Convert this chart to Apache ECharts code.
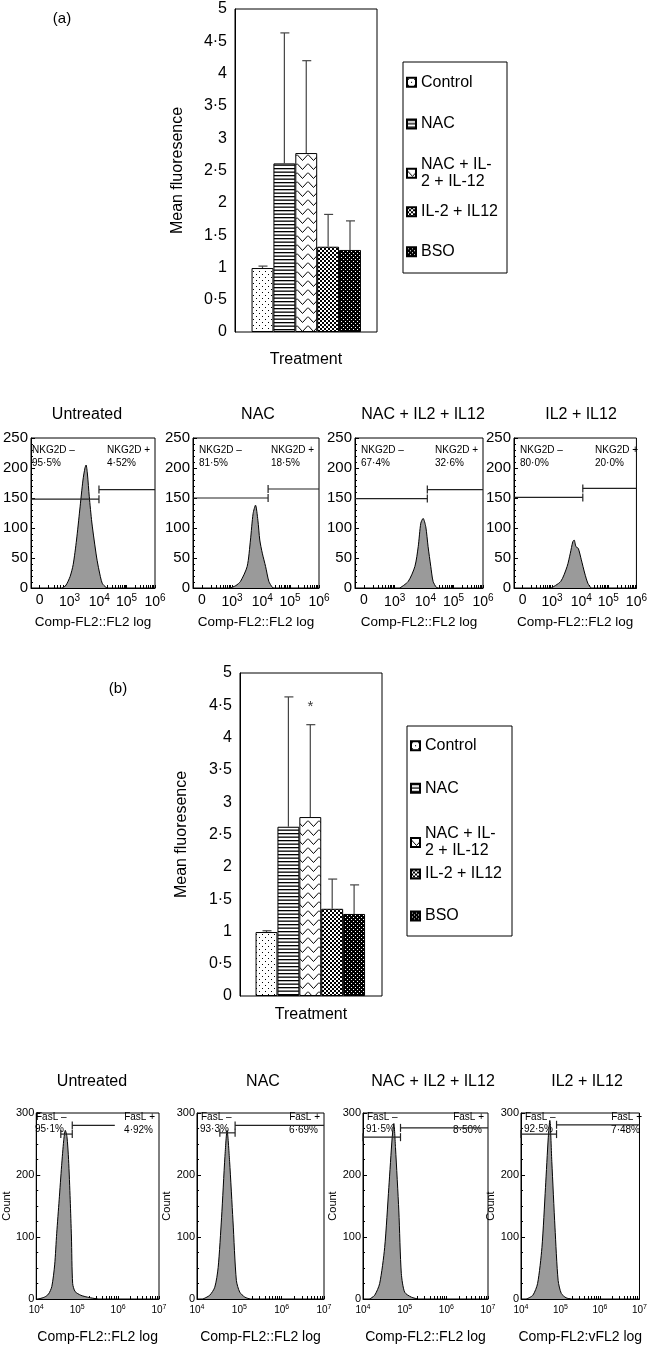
<!DOCTYPE html>
<html><head><meta charset="utf-8">
<script src="https://cdn.jsdelivr.net/npm/echarts@6/dist/echarts.min.js"></script>
<style>html,body{margin:0;padding:0;background:#fff}#c{width:650px;height:1345px}</style>
</head><body><div id="c"></div><script>
// ---------------- DATA ----------------
const treatments = ['Control', 'NAC', 'NAC + IL-2 + IL-12', 'IL-2 + IL12', 'BSO'];
const barPos = [1, 2, 3, 4, 5];
const meanA = [0.99, 2.61, 2.77, 1.32, 1.27];
const errTopA = [1.02, 4.63, 4.20, 1.82, 1.72];
const meanB = [0.99, 2.62, 2.77, 1.35, 1.27];
const errTopB = [1.01, 4.63, 4.20, 1.81, 1.72];
const asteriskB = [3, 4.47];
const barTicks = [0, 0.5, 1, 1.5, 2, 2.5, 3, 3.5, 4, 4.5, 5];

const panelTitles = ['Untreated', 'NAC', 'NAC + IL2 + IL12', 'IL2 + IL12'];

// NKG2D histograms (x in display units of the biexponential axis, y = count)
const nkgTickPos = [7, 31, 55, 77, 100];
const nkgTickExp = [null, 3, 4, 5, 6];
const nkgHist = [
  [[25,0],[28,4],[31.5,19],[34,39],[36.7,80],[39.3,130],[41.9,180],[43.5,200],[44.4,205],[45.5,190],[47,152],[49,110],[50.9,80],[53,50],[54.8,30],[57.4,8],[60.5,1],[62,0]],
  [[29.7,0],[34,4],[37.7,11],[43,36],[45.6,80],[47.7,124],[49.6,138],[51.5,113],[53,80],[55,58],[57.6,36],[60.2,11],[63,1],[64,0]],
  [[35,0],[41.6,11],[46.8,36],[49.4,69],[51.4,108],[53.2,116],[55.3,102],[57.1,69],[59.2,36],[61,11],[63.6,1],[65,0]],
  [[30.4,0],[38.2,11],[43.4,36],[46,58],[48,77],[49.1,80],[50.6,69],[52.5,66],[55,47],[57.7,25],[60.3,8],[62.9,0]]
];
const nkgNegGate = [[0,54.8,148],[0,59.6,150],[0,56.5,149],[0,56.2,151]];
const nkgPosGate = [[54.8,100,164],[59.6,100,165],[56.5,100,164],[56.2,100,166]];
const nkgNegPct = ['95·5%', '81·5%', '67·4%', '80·0%'];
const nkgPosPct = ['4·52%', '18·5%', '32·6%', '20·0%'];

// FasL histograms (x = log10 of fluorescence, y = count)
const fasTickExp = [4, 5, 6, 7];
const fasHist = [
  [[4.05,0],[4.2,3],[4.3,8],[4.38,20],[4.45,55],[4.5,106],[4.56,160],[4.62,215],[4.67,255],[4.71,272],[4.75,262],[4.79,225],[4.83,160],[4.86,100],[4.89,25],[4.95,12],[5.09,6],[5.25,3],[5.41,1],[5.5,0]],
  [[4.14,0],[4.3,6],[4.42,19],[4.5,51],[4.58,131],[4.66,230],[4.71,272],[4.77,222],[4.85,126],[4.93,30],[5.01,11],[5.13,3],[5.25,0]],
  [[4.16,0],[4.28,6],[4.4,25],[4.52,83],[4.62,180],[4.7,260],[4.74,283],[4.78,244],[4.86,142],[4.92,41],[5.0,11],[5.16,3],[5.32,0]],
  [[4.14,0],[4.3,6],[4.42,25],[4.53,83],[4.62,180],[4.69,260],[4.73,288],[4.78,222],[4.86,116],[4.94,30],[5.02,9],[5.14,2],[5.26,0]]
];
const fasNegGate = [[4.6,4.88,266],[4.54,4.9,268],[4.0,4.9,261],[4.0,4.9,266]];
const fasPosGate = [[4.88,5.92,280],[4.9,7,280],[4.9,7,276],[4.9,7,281]];
const fasNegPct = ['95·1%', '93·3%', '91·5%', '92·5%'];
const fasPosPct = ['4·92%', '6·69%', '8·50%', '7·48%'];
const fasXNames = ['Comp-FL2::FL2 log', 'Comp-FL2::FL2 log', 'Comp-FL2::FL2 log', 'Comp-FL2:vFL2 log'];

// ---------------- LAYOUT ----------------
const FONT = '"Liberation Sans", Arial, Helvetica, sans-serif';
const nkgLeft = [26, 193, 355, 514], nkgWidth = [129, 126, 128, 129];
const nkgTitleX = [87, 258, 423, 581];
const fasLeft = [32, 197, 363, 521], fasWidth = [127, 127, 125, 125];
const fasTitleX = [92, 263, 433, 587];

// ---------------- PATTERNS ----------------
function pat(w, h, draw) {
  const c = document.createElement('canvas'); c.width = w; c.height = h;
  const g = c.getContext('2d'); g.fillStyle = '#fff'; g.fillRect(0, 0, w, h); draw(g);
  return { image: c, repeat: 'repeat' };
}
const patterns = [
  pat(6, 6, g => { g.fillStyle = '#000'; g.fillRect(1, 1, 1, 1); g.fillRect(4, 4, 1, 1); }),
  pat(4, 7, g => { g.fillStyle = '#000'; g.fillRect(0, 0, 4, 1.3); g.fillRect(0, 3.5, 4, 1.3); }),
  pat(11, 9, g => { g.strokeStyle = '#000'; g.lineWidth = 1; g.beginPath(); g.moveTo(0, 1.5); g.lineTo(5.5, 7.5); g.lineTo(11, 1.5); g.stroke(); }),
  pat(4, 4, g => { g.fillStyle = '#000'; g.fillRect(0, 0, 2, 2); g.fillRect(2, 2, 2, 2); }),
  pat(4, 4, g => { g.fillStyle = '#000'; g.fillRect(0, 0, 4, 4); g.fillStyle = '#fff'; g.fillRect(1, 1, 1, 1); g.fillRect(3, 3, 1, 1); })
];

// ---------------- HELPERS ----------------
function errRender(params, api) {
  const x = api.value(0), m = api.value(1), u = api.value(2);
  const p0 = api.coord([x, m]), p1 = api.coord([x, u]);
  const st = { stroke: '#444', lineWidth: 1.2 };
  return { type: 'group', children: [
    { type: 'line', shape: { x1: p0[0], y1: p0[1], x2: p1[0], y2: p1[1] }, style: st },
    { type: 'line', shape: { x1: p1[0] - 4, y1: p1[1], x2: p1[0] + 5, y2: p1[1] }, style: st }
  ]};
}
function gateRender(params, api) {
  const x1 = api.value(0), x2 = api.value(1), y = api.value(2), cl = api.value(3), cr = api.value(4);
  const a = api.coord([x1, y]), b = api.coord([x2, y]);
  const st = { stroke: '#222', lineWidth: 1.2 };
  const ch = [{ type: 'line', shape: { x1: a[0], y1: a[1], x2: b[0], y2: b[1] }, style: st }];
  if (cl) ch.push({ type: 'line', shape: { x1: a[0], y1: a[1] - 4, x2: a[0], y2: a[1] + 4 }, style: st });
  if (cr) ch.push({ type: 'line', shape: { x1: b[0], y1: b[1] - 4, x2: b[0], y2: b[1] + 4 }, style: st });
  return { type: 'group', children: ch };
}
function minorLog(a, b) { const r = []; for (let k = 2; k <= 9; k++) r.push(a + Math.log10(k) * (b - a)); return r; }
const nkgTickAll = nkgTickPos.slice();
for (let i = 0; i < nkgTickPos.length - 1; i++) nkgTickAll.push(...minorLog(nkgTickPos[i], nkgTickPos[i + 1]));
const fasTickAll = fasTickExp.slice();
for (let i = 0; i < fasTickExp.length - 1; i++) fasTickAll.push(...minorLog(fasTickExp[i], fasTickExp[i + 1]));

const supRich = {
  b: { fontSize: 14, fontFamily: FONT, color: '#000' },
  s: { fontSize: 10, fontFamily: FONT, color: '#000', padding: [0, 0, 8, 0] }
};
const supRichSmall = {
  b: { fontSize: 10, fontFamily: FONT, color: '#000' },
  s: { fontSize: 7, fontFamily: FONT, color: '#000', padding: [0, 0, 6, 0] }
};

// ---------------- OPTION ----------------
const grid = [], xAxis = [], yAxis = [], series = [], legend = [], graphic = [];
const gridStyle = { show: true, borderColor: '#000', borderWidth: 1, backgroundColor: 'transparent' };

// Bar charts
const barDefs = [
  { left: 235, top: 9, min: -0.257, max: 6.234, mean: meanA, err: errTopA, nameGapY: 49, nameGapX: 20 },
  { left: 240, top: 673, min: -0.21, max: 6.274, mean: meanB, err: errTopB, nameGapY: 50, nameGapX: 11 }
];
barDefs.forEach((d, gi) => {
  grid.push(Object.assign({ left: d.left, top: d.top, width: 142, height: 323 }, gridStyle));
  xAxis.push({ gridIndex: gi, type: 'value', min: d.min, max: d.max, name: 'Treatment', nameLocation: 'middle',
    nameGap: d.nameGapX, nameTextStyle: { fontSize: 16, fontFamily: FONT, color: '#000' },
    axisLine: { show: false, onZero: false }, axisTick: { show: false }, axisLabel: { show: false }, splitLine: { show: false } });
  yAxis.push({ gridIndex: gi, type: 'value', min: barTicks[0], max: barTicks[barTicks.length - 1], interval: 0.5,
    name: 'Mean fluoresence', nameLocation: 'middle', nameGap: d.nameGapY,
    nameTextStyle: { fontSize: 16, fontFamily: FONT, color: '#000' },
    axisLine: { show: true, onZero: false, lineStyle: { color: '#000' } }, axisTick: { show: false }, splitLine: { show: false },
    axisLabel: { fontSize: 16, fontFamily: FONT, color: '#000', margin: 8, formatter: v => String(v).replace('.', '·') } });
  treatments.forEach((t, i) => {
    series.push({ type: 'bar', name: t, xAxisIndex: gi, yAxisIndex: gi, barWidth: 21.9, barGap: '-100%',
      data: [[barPos[i], d.mean[i]]], itemStyle: { color: patterns[i], borderColor: '#000', borderWidth: 1 },
      emphasis: { disabled: true } });
  });
  series.push({ type: 'custom', xAxisIndex: gi, yAxisIndex: gi, renderItem: errRender, z: 3,
    data: barPos.map((p, i) => [p, d.mean[i], d.err[i]]) });
});
series.push({ type: 'scatter', xAxisIndex: 1, yAxisIndex: 1, data: [asteriskB], symbolSize: 1,
  itemStyle: { color: 'transparent' },
  label: { show: true, formatter: '*', position: 'inside', fontSize: 15, fontFamily: FONT, color: '#000' } });

// Legends
const legendDefs = [
  { left: 406, centers: [82.3, 124, 173.3, 211.7, 251.7], box: [403, 62, 104, 211] },
  { left: 410, centers: [745.7, 788.3, 842.5, 874, 916], box: [407, 726, 105, 210] }
];
legendDefs.forEach(ld => {
  treatments.forEach((t, i) => {
    const multi = i === 2;
    legend.push({ data: [{ name: t, icon: 'rect' }], left: ld.left, top: ld.centers[i] - (multi ? 17 : 8.5), orient: 'vertical',
      padding: 0, itemWidth: 9, itemHeight: 9, selectedMode: false, icon: 'rect',
      formatter: n => n === 'NAC + IL-2 + IL-12' ? 'NAC + IL-\n2 + IL-12' : n,
      textStyle: { fontSize: 16, fontFamily: FONT, color: '#000', lineHeight: 17 } });
  });
  graphic.push({ type: 'rect', shape: { x: ld.box[0], y: ld.box[1], width: ld.box[2], height: ld.box[3] },
    style: { fill: 'none', stroke: '#000', lineWidth: 1 } });
});

// NKG2D histograms
panelTitles.forEach((title, p) => {
  const gi = grid.length;
  grid.push(Object.assign({ left: nkgLeft[p], top: 438, width: nkgWidth[p], height: 150 }, gridStyle));
  xAxis.push({ gridIndex: gi, type: 'value', min: 0, max: 100, name: 'Comp-FL2::FL2 log', nameLocation: 'middle',
    nameGap: 27, nameTextStyle: { fontSize: 13.5, fontFamily: FONT, color: '#000' },
    axisLine: { show: true, onZero: false, lineStyle: { color: '#000' } }, splitLine: { show: false },
    axisTick: { show: true, inside: true, length: 3, customValues: nkgTickAll, lineStyle: { color: '#000' } },
    axisLabel: { customValues: nkgTickPos, margin: 5, rich: supRich, showMinLabel: true, showMaxLabel: true,
      formatter: v => { let k = 0, best = 1e9; nkgTickPos.forEach((t, j) => { if (Math.abs(t - v) < best) { best = Math.abs(t - v); k = j; } });
        return nkgTickExp[k] === null ? '{b|0}' : '{b|10}{s|' + nkgTickExp[k] + '}'; } } });
  yAxis.push({ gridIndex: gi, type: 'value', min: 0, max: 250, interval: 50,
    axisLine: { show: true, onZero: false, lineStyle: { color: '#000' } }, splitLine: { show: false },
    axisTick: { show: true, inside: true, length: 4, lineStyle: { color: '#000' } },
    minorTick: { show: true, splitNumber: 5, length: 2, lineStyle: { color: '#000' } },
    axisLabel: { fontSize: 15, fontFamily: FONT, color: '#000', margin: 3 } });
  series.push({ type: 'line', xAxisIndex: gi, yAxisIndex: gi, data: nkgHist[p], symbol: 'none', smooth: 0.25,
    lineStyle: { color: '#000', width: 1 }, areaStyle: { color: '#9a9a9a', opacity: 1 }, z: 2 });
  series.push({ type: 'custom', xAxisIndex: gi, yAxisIndex: gi, renderItem: gateRender, z: 4, clip: false,
    data: [[nkgNegGate[p][0], nkgNegGate[p][1], nkgNegGate[p][2], 0, 1], [nkgPosGate[p][0], nkgPosGate[p][1], nkgPosGate[p][2], 1, 0]] });
  const L = nkgLeft[p], R = nkgLeft[p] + nkgWidth[p];
  const tf = '10px ' + FONT;
  graphic.push(
    { type: 'text', x: nkgTitleX[p], y: 415, style: { text: title, font: '16px ' + FONT, fill: '#000', align: 'center', verticalAlign: 'middle' } },
    { type: 'text', x: L + 6, y: 450, style: { text: 'NKG2D –', font: tf, fill: '#000', verticalAlign: 'middle' } },
    { type: 'text', x: L + 6, y: 463, style: { text: nkgNegPct[p], font: tf, fill: '#000', verticalAlign: 'middle' } },
    { type: 'text', x: R - 48, y: 450, style: { text: 'NKG2D +', font: tf, fill: '#000', verticalAlign: 'middle' } },
    { type: 'text', x: R - 48, y: 463, style: { text: nkgPosPct[p], font: tf, fill: '#000', verticalAlign: 'middle' } }
  );
});

// FasL histograms
panelTitles.forEach((title, p) => {
  const gi = grid.length;
  grid.push(Object.assign({ left: fasLeft[p], top: 1113, width: fasWidth[p], height: 186 }, gridStyle));
  xAxis.push({ gridIndex: gi, type: 'value', min: 4, max: 7, interval: 1, name: fasXNames[p], nameLocation: 'middle',
    nameGap: 31, nameTextStyle: { fontSize: 14, fontFamily: FONT, color: '#000' },
    axisLine: { show: true, onZero: false, lineStyle: { color: '#000' } }, splitLine: { show: false },
    axisTick: { show: true, inside: true, length: 3, customValues: fasTickAll, lineStyle: { color: '#000' } },
    axisLabel: { margin: 5, rich: supRichSmall, showMinLabel: true, showMaxLabel: true,
      formatter: v => '{b|10}{s|' + Math.round(v) + '}' } });
  yAxis.push({ gridIndex: gi, type: 'value', min: 0, max: 300, interval: 100, name: 'Count', nameLocation: 'middle',
    nameGap: 20, nameTextStyle: { fontSize: 11, fontFamily: FONT, color: '#000' },
    axisLine: { show: true, onZero: false, lineStyle: { color: '#000' } }, splitLine: { show: false },
    axisTick: { show: true, inside: true, length: 4, lineStyle: { color: '#000' } },
    minorTick: { show: true, splitNumber: 4, length: 2, lineStyle: { color: '#000' } },
    axisLabel: { fontSize: 11, fontFamily: FONT, color: '#000', margin: 2 } });
  series.push({ type: 'line', xAxisIndex: gi, yAxisIndex: gi, data: fasHist[p], symbol: 'none', smooth: 0.25,
    lineStyle: { color: '#000', width: 1 }, areaStyle: { color: '#9a9a9a', opacity: 1 }, z: 2 });
  series.push({ type: 'custom', xAxisIndex: gi, yAxisIndex: gi, renderItem: gateRender, z: 4, clip: false,
    data: [[fasNegGate[p][0], fasNegGate[p][1], fasNegGate[p][2], 1, 1], [fasPosGate[p][0], fasPosGate[p][1], fasPosGate[p][2], 1, 0]] });
  const L = fasLeft[p], R = fasLeft[p] + fasWidth[p];
  const tf = '10px ' + FONT;
  graphic.push(
    { type: 'text', x: fasTitleX[p], y: 1082, style: { text: title, font: '16px ' + FONT, fill: '#000', align: 'center', verticalAlign: 'middle' } },
    { type: 'text', x: L + 4, y: 1117, style: { text: 'FasL –', font: tf, fill: '#000', verticalAlign: 'middle' } },
    { type: 'text', x: L + 3, y: 1129, style: { text: fasNegPct[p], font: tf, fill: '#000', verticalAlign: 'middle' } },
    { type: 'text', x: R - 4, y: 1117, style: { text: 'FasL +', font: tf, fill: '#000', align: 'right', verticalAlign: 'middle' } },
    { type: 'text', x: R - 6, y: 1130, style: { text: fasPosPct[p], font: tf, fill: '#000', align: 'right', verticalAlign: 'middle' } }
  );
});

graphic.push(
  { type: 'text', x: 62, y: 19, style: { text: '(a)', font: '15px ' + FONT, fill: '#000', align: 'center', verticalAlign: 'middle' } },
  { type: 'text', x: 118, y: 689, style: { text: '(b)', font: '15px ' + FONT, fill: '#000', align: 'center', verticalAlign: 'middle' } }
);

const chart = echarts.init(document.getElementById('c'), null, { renderer: 'canvas' });
chart.setOption({ animation: false, backgroundColor: '#fff', grid, xAxis, yAxis, series, legend, graphic,
  textStyle: { fontFamily: FONT } });
</script></body></html>
